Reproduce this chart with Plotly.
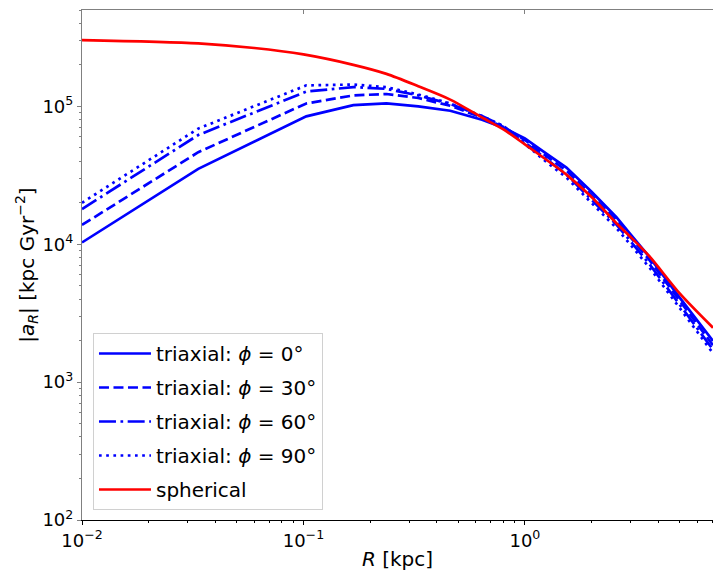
import plotly.graph_objects as go
import numpy as np

# Radii (kpc)
R_tri = [0.01, 0.0335, 0.103, 0.168, 0.237, 0.33, 0.46, 0.64, 0.8, 1.0, 1.25, 1.54, 2.0, 2.59, 3.0, 3.67, 5.0, 7.07]
a_phi0 = [1.03e4, 3.52e4, 8.46e4, 1.02e5, 1.05e5, 1.0e5, 9.3e4, 8.0e4, 7.0e4, 5.85e4, 4.55e4, 3.6e4, 2.4e4, 1.57e4, 1.18e4, 8.0e3, 4.1e3, 1.99e3]
a_phi30 = [1.38e4, 4.65e4, 1.05e5, 1.2e5, 1.23e5, 1.15e5, 1.01e5, 8.3e4, 7.1e4, 5.7e4, 4.35e4, 3.42e4, 2.27e4, 1.49e4, 1.12e4, 7.6e3, 3.9e3, 1.85e3]
a_phi60 = [1.8e4, 6.2e4, 1.28e5, 1.38e5, 1.34e5, 1.2e5, 1.04e5, 8.5e4, 7.2e4, 5.5e4, 4.15e4, 3.2e4, 2.12e4, 1.39e4, 1.05e4, 7.1e3, 3.65e3, 1.72e3]
a_phi90 = [2.0e4, 6.9e4, 1.42e5, 1.44e5, 1.38e5, 1.22e5, 1.05e5, 8.5e4, 7.2e4, 5.35e4, 3.95e4, 3.05e4, 2.0e4, 1.31e4, 9.9e3, 6.7e3, 3.45e3, 1.62e3]

R_sph = [0.01, 0.0335, 0.06, 0.1, 0.168, 0.237, 0.33, 0.46, 0.64, 0.8, 1.0, 1.25, 1.54, 2.0, 2.59, 3.0, 3.67, 5.0, 7.07]
a_sph = [3.02e5, 2.86e5, 2.65e5, 2.38e5, 2.0e5, 1.72e5, 1.4e5, 1.12e5, 8.3e4, 6.8e4, 5.3e4, 4.1e4, 3.2e4, 2.2e4, 1.42e4, 1.13e4, 8.1e3, 4.4e3, 2.48e3]

labels = ["triaxial: <i>ϕ</i> = 0°", "triaxial: <i>ϕ</i> = 30°", "triaxial: <i>ϕ</i> = 60°", "triaxial: <i>ϕ</i> = 90°", "spherical"]
x_major = [0.01, 0.1, 1]
y_major = [1e2, 1e3, 1e4, 1e5]

FONT = "DejaVu Sans"
FS = 20
TFS = 18
LW = 2.7
dashes = ["solid", "10px,4.5px", "17px,4.5px,2.7px,4.5px", "2.7px,4.5px"]

fig = go.Figure()
for i, yv in enumerate([a_phi0, a_phi30, a_phi60, a_phi90]):
    fig.add_trace(go.Scatter(x=R_tri, y=yv, mode="lines", name=labels[i],
                             legendgroup=f"g{i}",
                             line=dict(color="#0000ff", width=LW, dash=dashes[i])))
fig.add_trace(go.Scatter(x=R_sph, y=a_sph, mode="lines", name=labels[4],
                         legendgroup="g4",
                         line=dict(color="#ff0000", width=LW, shape="spline", smoothing=0.8)))

x_minor = [m * 10.0**k for k in range(-2, 1) for m in range(2, 10)]
y_minor = [m * 10.0**k for k in range(2, 6) for m in range(2, 10)]

def pow_label(v):
    e = int(round(np.log10(v)))
    s = str(e).replace("-", "−")
    return f"10<sup>{s}</sup>"

fig.update_layout(
    width=713, height=572,
    margin=dict(l=82, r=0, t=10, b=52),
    paper_bgcolor="white", plot_bgcolor="white",
    font=dict(family=FONT, size=FS, color="black"),
    showlegend=True,
    legend=dict(x=0.0174, y=0.0196, xanchor="left", yanchor="bottom",
                bgcolor="rgba(255,255,255,0.8)", bordercolor="#d0d0d0", borderwidth=1,
                font=dict(family=FONT, size=FS), tracegroupgap=5, traceorder="grouped",
                itemwidth=52),
    xaxis=dict(type="log", range=[-2, np.log10(7.07)], automargin=False,
               tickvals=x_major, ticktext=[pow_label(v) for v in x_major],
               ticks="outside", ticklen=4, tickcolor="black", tickwidth=1,
               showline=True, linecolor="black", linewidth=1.2,
               showgrid=False, zeroline=False,
               minor=dict(tickvals=x_minor, ticks="outside", ticklen=2, tickcolor="black", showgrid=False),
               title=dict(text="<i>R</i> [kpc]", font=dict(size=FS), standoff=2),
               tickfont=dict(size=TFS)),
    xaxis2=dict(type="log", range=[-2, np.log10(7.07)], overlaying="x", side="top", automargin=False,
                tickvals=x_major, showticklabels=False, ticks="inside", ticklen=4,
                tickcolor="#808080", showline=True, linecolor="#808080", linewidth=1.2,
                showgrid=False, zeroline=False),
    yaxis=dict(type="log", range=[2, np.log10(5e5)], automargin=False,
               tickvals=y_major, ticktext=[pow_label(v) for v in y_major],
               ticks="outside", ticklen=4, tickcolor="#808080", tickwidth=1,
               showline=True, linecolor="#808080", linewidth=1.2,
               showgrid=False, zeroline=False,
               minor=dict(tickvals=y_minor, ticks="outside", ticklen=2, tickcolor="#808080", showgrid=False),
               title=dict(text="|<i>a</i><sub><i>R</i></sub>| [kpc Gyr<sup>−2</sup>]", font=dict(size=FS), standoff=2),
               tickfont=dict(size=TFS)),
)
fig.add_trace(go.Scatter(x=[0.01], y=[1e3], xaxis="x2", mode="markers",
                         marker=dict(opacity=0), showlegend=False, hoverinfo="skip"))

fig.write_html("out.html", config={"displayModeBar": False},
               post_script="document.body.style.margin='0px';document.body.style.overflow='hidden';")
